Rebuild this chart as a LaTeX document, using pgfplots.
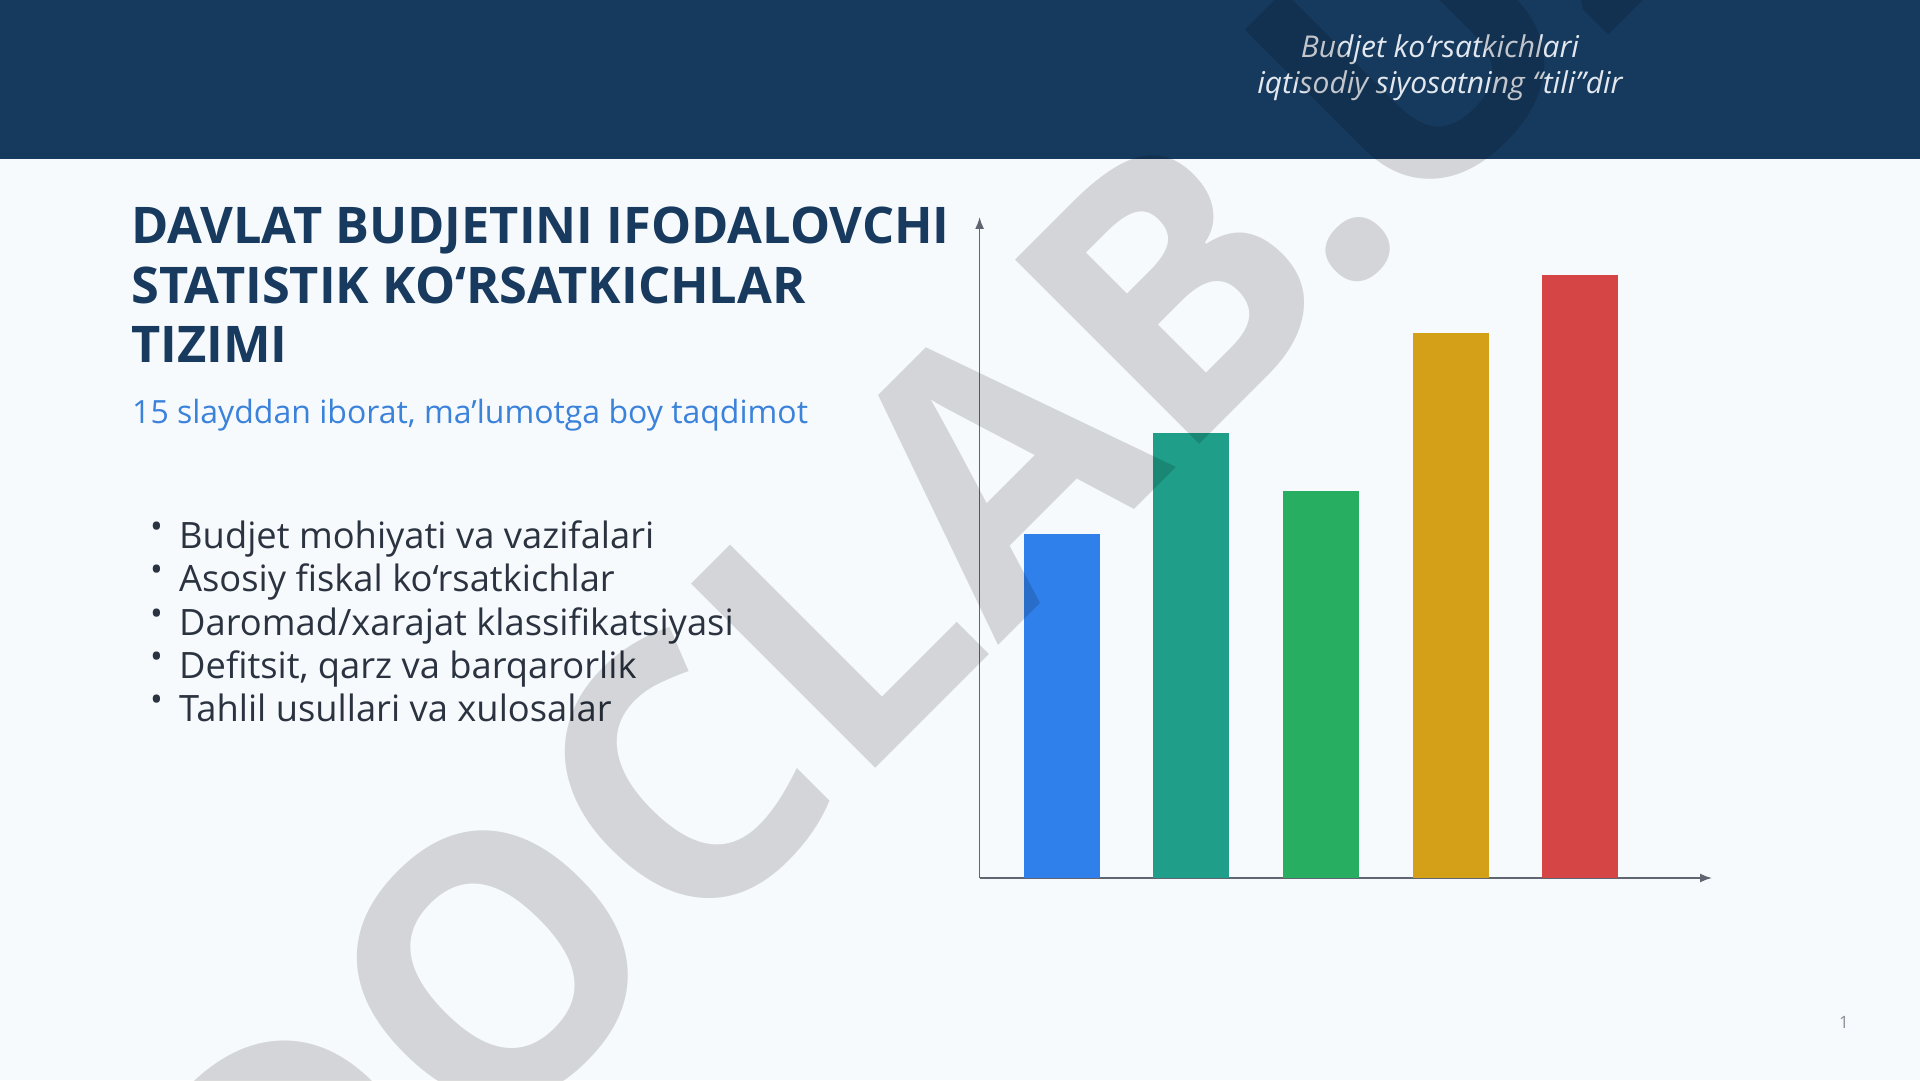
\documentclass[border=0pt]{standalone}
\usepackage{fontspec}
\setmainfont{Open Sans}
\usepackage{pgfplots}
\pgfplotsset{compat=1.18}
\usetikzlibrary{arrows.meta}
\definecolor{bg}{HTML}{F7FAFD}
\definecolor{navy}{HTML}{163A5E}
\definecolor{titlec}{HTML}{173A5E}
\definecolor{subc}{HTML}{3B82DB}
\definecolor{bodyc}{HTML}{2B3340}
\definecolor{axisc}{HTML}{5F6672}
\definecolor{c1}{HTML}{2F80EA}
\definecolor{c2}{HTML}{1F9E89}
\definecolor{c3}{HTML}{27AE60}
\definecolor{c4}{HTML}{D4A017}
\definecolor{c5}{HTML}{D64545}
\definecolor{hdtext}{HTML}{E3E8EF}
\definecolor{pgc}{HTML}{8A8F98}
\begin{document}
\begin{tikzpicture}
\useasboundingbox (0,0) rectangle (1920pt,1080pt);
\clip (0,0) rectangle (1920pt,1080pt);
\fill[bg] (0,0) rectangle (1920pt,1080pt);
\fill[navy] (0,921pt) rectangle (1920pt,1080pt);
% header text
\node[anchor=base, text=hdtext, font=\fontsize{30pt}{34pt}\selectfont\itshape, inner sep=0pt] at (1440pt,1022.5pt) {Budjet ko‘rsatkichlari};
\node[anchor=base, text=hdtext, font=\fontsize{30pt}{34pt}\selectfont\itshape, inner sep=0pt] at (1440pt,986.5pt) {iqtisodiy siyosatning “tili”dir};
% title
\foreach \t/\yy in {{DAVLAT BUDJETINI IFODALOVCHI}/836.3, {STATISTIK KO‘RSATKICHLAR}/776.3, {TIZIMI}/717.5}{
  \node[anchor=base west, text=titlec, font=\fontsize{50.5pt}{56pt}\selectfont\bfseries, inner sep=0pt] at (131pt,\yy pt) {\t};
}
\node[anchor=base west, text=subc, font=\fontsize{32pt}{36pt}\selectfont, inner sep=0pt] at (132pt,656pt) {15 slayddan iborat, ma’lumotga boy taqdimot};
\foreach \t/\yy in {{Budjet mohiyati va vazifalari}/531.8, {Asosiy fiskal ko‘rsatkichlar}/488.8, {Daromad/xarajat klassifikatsiyasi}/444.8, {Defitsit, qarz va barqarorlik}/401.8, {Tahlil usullari va xulosalar}/358.8}{
  \node[anchor=base west, text=bodyc, font=\fontsize{36.3pt}{40pt}\selectfont, inner sep=0pt] at (179pt,\yy pt) {\t};
  \node[anchor=base west, text=bodyc, font=\fontsize{34pt}{38pt}\selectfont, inner sep=0pt] at (150pt,\yy pt+10pt) {•};
}
\node[anchor=base, text=pgc, font=\fontsize{17pt}{20pt}\selectfont, inner sep=0pt] at (1844pt,52pt) {1};
\begin{axis}[
  at={(979.6pt,202pt)}, anchor=south west,
  scale only axis, width=732.4pt, height=661pt,
  xmin=-0.636, xmax=5.019, ymin=0, ymax=661,
  axis lines=left,
  axis line style={line width=1.6pt, color=axisc, -{Latex[length=12pt,width=9pt]}},
  xtick=\empty, ytick=\empty,
  clip=false,
]
\addplot[ybar, bar width=76pt, fill=c1, draw=none] coordinates {(0,344)};
\addplot[ybar, bar width=76pt, fill=c2, draw=none] coordinates {(1,445)};
\addplot[ybar, bar width=76pt, fill=c3, draw=none] coordinates {(2,387)};
\addplot[ybar, bar width=76pt, fill=c4, draw=none] coordinates {(3,545)};
\addplot[ybar, bar width=76pt, fill=c5, draw=none] coordinates {(4,603)};
\end{axis}
\node[rotate=45, anchor=base, opacity=0.145, text=black, inner sep=0pt, font=\fontsize{365pt}{365pt}\selectfont\bfseries] at (1022pt,458pt) {DOCLAB.UZ};
\end{tikzpicture}
\end{document}
